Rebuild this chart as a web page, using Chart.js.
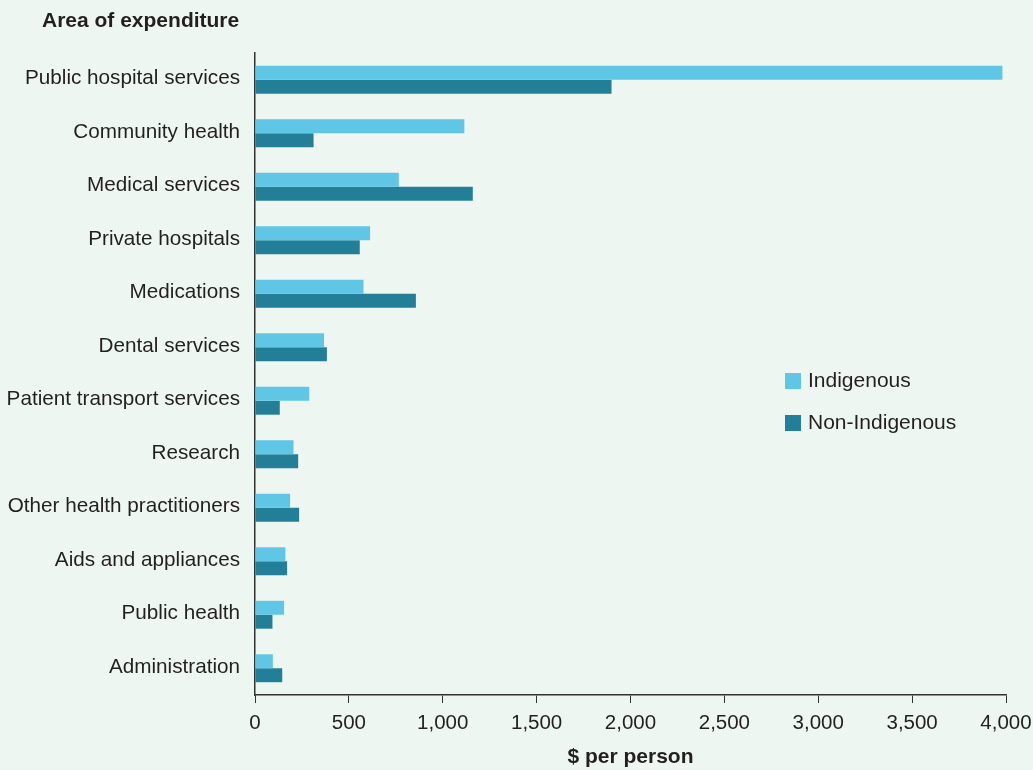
<!DOCTYPE html>
<html>
<head>
<meta charset="utf-8">
<script src="https://cdn.jsdelivr.net/npm/chart.js@4.4.0/dist/chart.umd.min.js"></script>
<style>
  html, body { margin: 0; padding: 0; background: #eef6f1; }
  #wrap { position: relative; width: 1033px; height: 770px; background: #eef6f1;
    font-family: "Liberation Sans", Arial, sans-serif; color: #231f20; }
  #yTitle { position: absolute; left: 42px; top: 8px; font-size: 21px; font-weight: bold; }
  .legendItem { position: absolute; left: 785px; font-size: 21px; line-height: 24px; }
  .legendItem span { display: inline-block; width: 16px; height: 16px; vertical-align: -2px; margin-right: 7px; }
</style>
</head>
<body>
<div id="wrap">
  <canvas id="chart" width="1033" height="770"></canvas>
  <div id="yTitle">Area of expenditure</div>
  <div class="legendItem" style="top:368px"><span style="background:#5fc6e6"></span>Indigenous</div>
  <div class="legendItem" style="top:410px"><span style="background:#237f98"></span>Non-Indigenous</div>
</div>
<script>
const categories = [
  'Public hospital services',
  'Community health',
  'Medical services',
  'Private hospitals',
  'Medications',
  'Dental services',
  'Patient transport services',
  'Research',
  'Other health practitioners',
  'Aids and appliances',
  'Public health',
  'Administration'
];
const indigenous = [3981, 1115, 766, 613, 578, 368, 289, 205, 187, 162, 155, 95];
const nonIndigenous = [1899, 312, 1160, 558, 857, 383, 132, 230, 235, 171, 93, 145];
const xTicks = [0, 500, 1000, 1500, 2000, 2500, 3000, 3500, 4000];

const fontFamily = '"Liberation Sans", Arial, sans-serif';
const textColor = '#231f20';

new Chart(document.getElementById('chart'), {
  type: 'bar',
  data: {
    labels: categories,
    datasets: [
      {
        label: 'Indigenous',
        data: indigenous,
        backgroundColor: '#5fc6e6',
        borderWidth: 0,
        categoryPercentage: 0.522,
        barPercentage: 1
      },
      {
        label: 'Non-Indigenous',
        data: nonIndigenous,
        backgroundColor: '#237f98',
        borderWidth: 0,
        categoryPercentage: 0.522,
        barPercentage: 1
      }
    ]
  },
  options: {
    indexAxis: 'y',
    responsive: false,
    maintainAspectRatio: false,
    devicePixelRatio: 1,
    animation: false,
    layout: { padding: { top: 53, right: 27, left: 0, bottom: 0 } },
    plugins: {
      legend: { display: false },
      tooltip: { enabled: false }
    },
    scales: {
      x: {
        min: 0,
        max: 4000,
        afterBuildTicks: (scale) => {
          scale.ticks = xTicks.map((v) => ({ value: v }));
        },
        afterFit: (scale) => {
          scale.height = 75;
          scale.paddingLeft = 0;
          scale.paddingRight = 0;
        },
        grid: { display: true, drawOnChartArea: false, drawTicks: true, tickLength: 8, color: '#333', lineWidth: 1 },
        border: { display: true, color: '#333', width: 1.5 },
        ticks: {
          color: textColor,
          padding: 8,
          maxRotation: 0,
          font: { family: fontFamily, size: 20.5 },
          callback: (v) => v.toLocaleString('en-US')
        },
        title: {
          display: true,
          text: '$ per person',
          color: textColor,
          padding: { top: 0, bottom: 0 },
          font: { family: fontFamily, size: 21, weight: 'bold' }
        }
      },
      y: {
        afterFit: (scale) => { scale.width = 255; },
        grid: { display: false, drawTicks: false },
        border: { display: true, color: '#333', width: 1.5 },
        ticks: {
          color: textColor,
          padding: 15,
          labelOffset: -1,
          font: { family: fontFamily, size: 20.7 }
        }
      }
    }
  }
});
</script>
</body>
</html>
